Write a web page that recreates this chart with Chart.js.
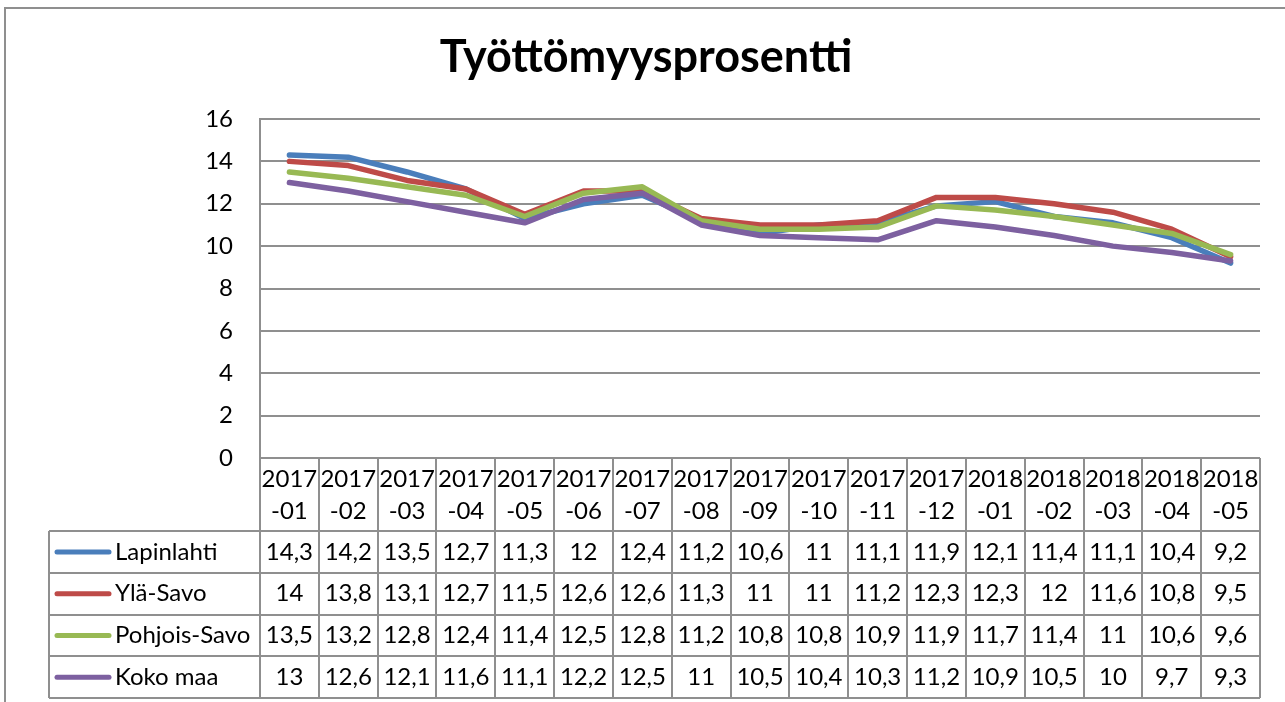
<!DOCTYPE html>
<html>
<head>
<meta charset="utf-8">
<title>Työttömyysprosentti</title>
<script src="https://cdn.jsdelivr.net/npm/chart.js@4/dist/chart.umd.min.js"></script>
<style>
    body { margin: 0; background: #fff; }
    #lineChart { display: block; }
</style>
</head>
<body>
<canvas id="lineChart" width="1285" height="702"></canvas>
<script>
const categories = ['2017-01', '2017-02', '2017-03', '2017-04', '2017-05', '2017-06', '2017-07', '2017-08', '2017-09',
    '2017-10', '2017-11', '2017-12', '2018-01', '2018-02', '2018-03', '2018-04', '2018-05'];
const lapinlahti = [14.3, 14.2, 13.5, 12.7, 11.3, 12, 12.4, 11.2, 10.6, 11, 11.1, 11.9, 12.1, 11.4, 11.1, 10.4, 9.2];
const ylaSavo = [14, 13.8, 13.1, 12.7, 11.5, 12.6, 12.6, 11.3, 11, 11, 11.2, 12.3, 12.3, 12, 11.6, 10.8, 9.5];
const pohjoisSavo = [13.5, 13.2, 12.8, 12.4, 11.4, 12.5, 12.8, 11.2, 10.8, 10.8, 10.9, 11.9, 11.7, 11.4, 11, 10.6, 9.6];
const kokoMaa = [13, 12.6, 12.1, 11.6, 11.1, 12.2, 12.5, 11, 10.5, 10.4, 10.3, 11.2, 10.9, 10.5, 10, 9.7, 9.3];
const yTicks = [0, 2, 4, 6, 8, 10, 12, 14, 16];

const FONT = "Lato, 'Open Sans', sans-serif";
const GRID = '#8f8f8f';

function series(label, data, color, order) {
    return {
        label: label,
        data: data,
        borderColor: color,
        backgroundColor: color,
        borderWidth: 5.5,
        pointRadius: 0,
        tension: 0,
        borderCapStyle: 'round',
        borderJoinStyle: 'round',
        order: order
    };
}

// data table under the plot, the way Excel draws it
const dataTable = {
    id: 'dataTable',
    afterDraw(chart) {
        const ctx = chart.ctx;
        const a = chart.chartArea;
        const x = chart.scales.x;
        const colW = (a.right - a.left) / categories.length;
        const headBottom = a.bottom + 73;
        const rowH = 41.75;
        const tableLeft = 49;
        const tableBottom = headBottom + rowH * chart.data.datasets.length;

        ctx.save();

        // outer frame of the chart object
        ctx.strokeStyle = GRID;
        ctx.lineWidth = 2;
        ctx.strokeRect(5, 8, 1300, 720);

        ctx.beginPath();
        for (let i = 0; i <= categories.length; i++) {
            const px = Math.round(a.left + i * colW);
            ctx.moveTo(px, a.bottom);
            ctx.lineTo(px, tableBottom);
        }
        ctx.moveTo(tableLeft, headBottom);
        ctx.lineTo(tableLeft, tableBottom);
        for (let r = 0; r <= chart.data.datasets.length; r++) {
            const py = Math.round(headBottom + r * rowH);
            ctx.moveTo(tableLeft, py);
            ctx.lineTo(a.right, py);
        }
        ctx.stroke();

        ctx.fillStyle = '#000';
        ctx.font = '24px ' + FONT;
        ctx.textAlign = 'center';
        ctx.textBaseline = 'middle';
        categories.forEach((c, i) => {
            const cx = x.getPixelForValue(i);
            ctx.fillText(c.slice(0, 4), cx, a.bottom + 21);
            ctx.fillText(c.slice(4), cx, a.bottom + 53);
        });

        chart.data.datasets.forEach((ds, r) => {
            const cy = headBottom + r * rowH + rowH / 2;
            ctx.strokeStyle = ds.borderColor;
            ctx.lineWidth = 5;
            ctx.lineCap = 'round';
            ctx.beginPath();
            ctx.moveTo(57, cy);
            ctx.lineTo(109, cy);
            ctx.stroke();

            ctx.textAlign = 'left';
            ctx.fillText(ds.label, 115, cy);
            ctx.textAlign = 'center';
            ds.data.forEach((v, i) => {
                ctx.fillText(String(v).replace('.', ','), x.getPixelForValue(i), cy);
            });
        });
        ctx.restore();
    }
};

const chart = new Chart(document.getElementById('lineChart').getContext('2d'), {
    type: 'line',
    plugins: [dataTable],
    data: {
        labels: categories,
        datasets: [
            series('Lapinlahti', lapinlahti, '#4A7EBB', 4),
            series('Ylä-Savo', ylaSavo, '#BE4B48', 3),
            series('Pohjois-Savo', pohjoisSavo, '#98B954', 2),
            series('Koko maa', kokoMaa, '#7D60A0', 1)
        ]
    },
    options: {
        responsive: false,
        animation: false,
        devicePixelRatio: 1,
        layout: {
            padding: { top: 0, left: 32, right: 25, bottom: 244 }
        },
        plugins: {
            legend: { display: false },
            tooltip: { enabled: false },
            title: {
                display: true,
                text: 'Työttömyysprosentti',
                color: '#000',
                font: { family: FONT, size: 45, weight: 'bold' },
                padding: { top: 30, bottom: 35 }
            }
        },
        scales: {
            x: {
                display: false,
                offset: true
            },
            y: {
                min: 0,
                max: 16,
                afterFit: function (scale) {
                    scale.width = 228;
                },
                afterBuildTicks: function (scale) {
                    scale.ticks = yTicks.map(v => ({ value: v }));
                },
                grid: {
                    color: GRID,
                    lineWidth: 2,
                    drawTicks: false
                },
                border: { display: true, color: GRID, width: 2 },
                ticks: {
                    color: '#000',
                    padding: 27,
                    font: { family: FONT, size: 24 }
                }
            }
        }
    }
});
</script>
</body>
</html>
